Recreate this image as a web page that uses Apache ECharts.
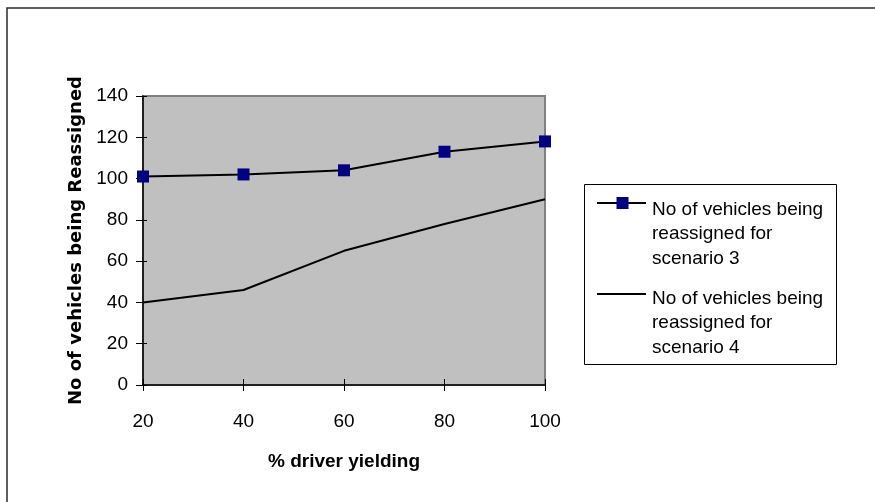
<!DOCTYPE html>
<html>
<head>
<meta charset="utf-8">
<script src="https://cdn.jsdelivr.net/npm/echarts@6/dist/echarts.min.js"></script>
<style>
  html, body { margin: 0; padding: 0; background: #fff; }
  #chart { width: 875px; height: 502px; }
</style>
</head>
<body>
<div id="chart"></div>
<script>
// Driver yielding percentages (x categories)
const yieldingPct = ['20', '40', '60', '80', '100'];
// Vehicles reassigned, scenario 3
const scenario3 = [101, 102, 104, 113, 118];
// Vehicles reassigned, scenario 4
const scenario4 = [40, 46, 65, 78, 90];
// Series / legend labels
const seriesNames = [
  'No of vehicles being\nreassigned for\nscenario 3',
  'No of vehicles being\nreassigned for\nscenario 4'
];
const xAxisTitle = '% driver yielding';
const yAxisTitle = 'No of vehicles being Reassigned';
const yMin = 0, yMax = 140, yStep = 20;

const FONT = '"Liberation Sans", Arial, sans-serif';
const chart = echarts.init(document.getElementById('chart'), null, { renderer: 'canvas' });

const baseX = {
  type: 'category',
  data: yieldingPct,
  boundaryGap: false,
  gridIndex: 0,
  position: 'bottom'
};
const baseY = {
  type: 'value',
  min: yMin,
  max: yMax,
  interval: yStep,
  gridIndex: 0,
  position: 'left',
  splitLine: { show: false }
};

chart.setOption({
  animation: false,
  backgroundColor: '#ffffff',
  grid: {
    left: 143, top: 96, right: 330, bottom: 117,
    show: true,
    backgroundColor: '#c0c0c0',
    borderColor: '#808080',
    borderWidth: 2
  },
  xAxis: [
    Object.assign({}, baseX, {
      name: xAxisTitle,
      nameLocation: 'middle',
      nameGap: 67,
      nameTextStyle: { fontFamily: FONT, fontSize: 19, fontWeight: 'bold', color: '#000' },
      axisLine: { show: true, lineStyle: { color: '#000', width: 1.5 } },
      axisTick: { show: true, inside: false, length: 6, lineStyle: { color: '#000', width: 1 } },
      axisLabel: { fontFamily: FONT, fontSize: 19, color: '#000', margin: 27 }
    }),
    Object.assign({}, baseX, {
      axisLine: { show: false },
      axisTick: { show: true, inside: true, length: 6, lineStyle: { color: '#000', width: 1 } },
      axisLabel: { show: false }
    })
  ],
  yAxis: [
    Object.assign({}, baseY, {
      name: yAxisTitle,
      nameLocation: 'middle',
      nameGap: 58,
      nameTextStyle: { fontFamily: '"DejaVu Sans", sans-serif', fontSize: 18, fontWeight: 'bold', color: '#000' },
      axisLine: { show: true, lineStyle: { color: '#000', width: 1.5 } },
      axisTick: { show: true, inside: false, length: 7, lineStyle: { color: '#000', width: 1 } },
      axisLabel: { fontFamily: FONT, fontSize: 19, color: '#000', margin: 15, padding: [4, 0, 0, 0] }
    }),
    Object.assign({}, baseY, {
      axisLine: { show: false },
      axisTick: { show: true, inside: true, length: 4, lineStyle: { color: '#000', width: 1 } },
      axisLabel: { show: false }
    })
  ],
  series: [
    {
      name: seriesNames[0],
      type: 'line',
      data: scenario3,
      xAxisIndex: 0,
      yAxisIndex: 0,
      symbol: 'rect',
      symbolSize: 12,
      lineStyle: { color: '#000', width: 2 },
      itemStyle: { color: '#000080', borderWidth: 0 },
      z: 3
    },
    {
      name: seriesNames[1],
      type: 'line',
      data: scenario4,
      xAxisIndex: 0,
      yAxisIndex: 0,
      symbol: 'none',
      lineStyle: { color: '#000', width: 2 },
      z: 2
    }
  ],
  graphic: [
    // outer chart frame (top and left edges visible)
    {
      type: 'rect',
      shape: { x: 7, y: 8, width: 1000, height: 700 },
      style: { fill: 'none', stroke: '#2b2b2b', lineWidth: 1.5 },
      silent: true
    },
    // legend box
    {
      type: 'group',
      children: [
        {
          type: 'rect',
          shape: { x: 584.5, y: 184.5, width: 252, height: 180 },
          style: { fill: '#fff', stroke: '#000', lineWidth: 1 }
        },
        {
          type: 'line',
          shape: { x1: 597, y1: 203, x2: 646, y2: 203 },
          style: { stroke: '#000', lineWidth: 2 }
        },
        {
          type: 'rect',
          shape: { x: 616.5, y: 197, width: 12, height: 12 },
          style: { fill: '#000080' }
        },
        {
          type: 'text',
          style: {
            text: seriesNames[0], x: 652, y: 234, verticalAlign: 'middle',
            fontFamily: FONT, fontSize: 19, lineHeight: 24.5, fill: '#000'
          }
        },
        {
          type: 'line',
          shape: { x1: 597, y1: 294, x2: 646, y2: 294 },
          style: { stroke: '#000', lineWidth: 2 }
        },
        {
          type: 'text',
          style: {
            text: seriesNames[1], x: 652, y: 323, verticalAlign: 'middle',
            fontFamily: FONT, fontSize: 19, lineHeight: 24.5, fill: '#000'
          }
        }
      ]
    }
  ]
});
</script>
</body>
</html>
